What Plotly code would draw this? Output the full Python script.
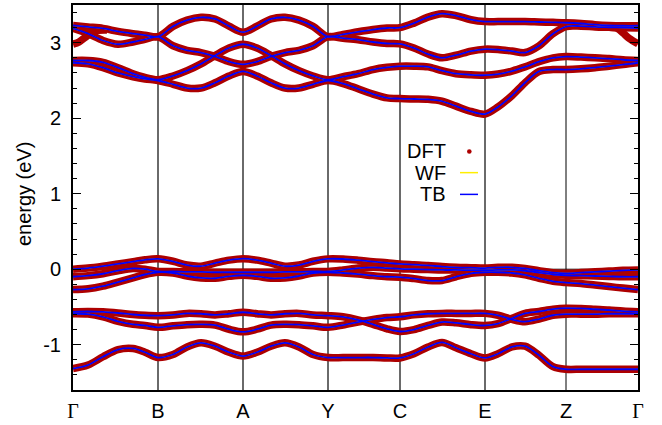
import plotly.graph_objects as go

# k-path sample positions (path distance, arbitrary units)
K = [0, 15, 30, 45, 60, 72, 85,
     100, 114, 128, 142, 156, 170,
     184, 198, 212, 226, 240, 255,
     270, 285, 300, 314, 327,
     341, 355, 369, 383, 398, 412,
     425, 439, 452, 466, 480, 493,
     508, 522, 536, 550, 565]

# high-symmetry points
LABEL_K = [0, 85, 170, 255, 327, 412, 493, 565]
LABELS = ["Γ", "B", "A", "Y", "C", "E", "Z", "Γ"]

# band energies (eV) read along K
U4 = [3.23, 3.21, 3.19, 3.15, 3.12, 3.10, 3.08,
      3.217, 3.30, 3.337, 3.315, 3.22, 3.14,
      3.22, 3.315, 3.337, 3.30, 3.217, 3.08,
      3.11, 3.145, 3.175, 3.195, 3.20,
      3.26, 3.34, 3.385, 3.36, 3.305, 3.28,
      3.28, 3.28, 3.28, 3.275, 3.27, 3.265,
      3.255, 3.24, 3.23, 3.225, 3.225]
U3 = [3.19, 3.12, 3.03, 2.98, 3.01, 3.045, 3.08,
      2.96, 2.90, 2.87, 2.82, 2.75, 2.714,
      2.75, 2.82, 2.87, 2.90, 2.96, 3.08,
      3.06, 3.04, 3.01, 2.99, 2.985,
      2.93, 2.85, 2.80, 2.835, 2.89, 2.915,
      2.91, 2.89, 2.87, 2.96, 3.12, 3.215,
      3.22, 3.21, 3.205, 3.20, 3.195]
U2 = [2.765, 2.765, 2.74, 2.67, 2.59, 2.54, 2.51,
      2.56, 2.63, 2.72, 2.83, 2.93, 2.98,
      2.93, 2.83, 2.72, 2.63, 2.56, 2.51,
      2.55, 2.59, 2.645, 2.675, 2.69,
      2.69, 2.68, 2.63, 2.59, 2.575, 2.57,
      2.585, 2.625, 2.68, 2.75, 2.80, 2.817,
      2.81, 2.80, 2.79, 2.775, 2.765]
U1 = [2.735, 2.72, 2.67, 2.60, 2.55, 2.52, 2.50,
      2.45, 2.40, 2.40, 2.47, 2.56, 2.62,
      2.56, 2.47, 2.40, 2.40, 2.45, 2.50,
      2.46, 2.39, 2.32, 2.27, 2.26,
      2.255, 2.25, 2.225, 2.16, 2.09, 2.055,
      2.15, 2.30, 2.47, 2.62, 2.645, 2.645,
      2.655, 2.67, 2.69, 2.71, 2.735]
V6 = [0.0, 0.015, 0.04, 0.07, 0.10, 0.125, 0.137,
      0.105, 0.055, 0.04, 0.08, 0.12, 0.14,
      0.12, 0.08, 0.04, 0.055, 0.105, 0.137,
      0.135, 0.12, 0.10, 0.085, 0.07,
      0.06, 0.05, 0.035, 0.025, 0.02, 0.015,
      0.025, 0.025, 0.01, -0.02, -0.045, -0.055,
      -0.045, -0.035, -0.025, -0.015, -0.01]
V5 = [-0.10, -0.085, -0.06, -0.02, 0.01, 0.0, -0.03,
      -0.03, -0.035, -0.035, -0.04, -0.04, -0.04,
      -0.04, -0.04, -0.035, -0.035, -0.03, -0.03,
      -0.01, 0.015, 0.025, 0.015, 0.005,
      0.0, -0.005, -0.01, -0.01, -0.012, -0.013,
      -0.01, -0.01, -0.02, -0.045, -0.07, -0.08,
      -0.085, -0.09, -0.095, -0.10, -0.10]
V4 = [-0.27, -0.26, -0.225, -0.17, -0.115, -0.07, -0.04,
      -0.05, -0.09, -0.115, -0.12, -0.095, -0.08,
      -0.095, -0.12, -0.115, -0.09, -0.05, -0.04,
      -0.05, -0.065, -0.085, -0.10, -0.105,
      -0.125, -0.15, -0.15, -0.10, -0.055, -0.04,
      -0.04, -0.05, -0.075, -0.12, -0.16, -0.177,
      -0.19, -0.21, -0.23, -0.25, -0.27]
V3 = [-0.564, -0.56, -0.565, -0.58, -0.60, -0.61, -0.615,
      -0.605, -0.585, -0.59, -0.605, -0.59, -0.57,
      -0.59, -0.605, -0.59, -0.585, -0.605, -0.615,
      -0.63, -0.67, -0.73, -0.79, -0.825,
      -0.80, -0.745, -0.70, -0.71, -0.735, -0.745,
      -0.72, -0.65, -0.585, -0.56, -0.53, -0.516,
      -0.52, -0.53, -0.54, -0.555, -0.564]
V2 = [-0.59, -0.595, -0.63, -0.69, -0.73, -0.745, -0.77,
      -0.75, -0.735, -0.73, -0.74, -0.795, -0.83,
      -0.795, -0.74, -0.73, -0.735, -0.75, -0.77,
      -0.74, -0.70, -0.665, -0.64, -0.63,
      -0.605, -0.59, -0.585, -0.585, -0.585, -0.585,
      -0.61, -0.665, -0.695, -0.66, -0.61, -0.595,
      -0.595, -0.595, -0.59, -0.59, -0.59]
V1 = [-1.316, -1.27, -1.16, -1.065, -1.05, -1.10, -1.17,
      -1.13, -1.03, -0.975, -1.02, -1.10, -1.15,
      -1.10, -1.02, -0.975, -1.03, -1.13, -1.17,
      -1.17, -1.17, -1.17, -1.175, -1.175,
      -1.12, -1.03, -0.97, -1.04, -1.12, -1.175,
      -1.12, -1.03, -1.02, -1.14, -1.29, -1.325,
      -1.325, -1.325, -1.325, -1.325, -1.325]

# DFT-only band pieces near Gamma (outside the Wannier window)
DFT_GL_K = [0, 6, 12, 18, 25, 34]
DFT_GL_E = [2.98, 3.01, 3.07, 3.13, 3.165, 3.17]
DFT_GR_K = [536, 544, 550, 556, 565]
DFT_GR_E = [3.205, 3.19, 3.13, 3.06, 2.985]

BANDS = [V1, V2, V3, V4, V5, V6, U1, U2, U3, U4]

RED = "#ad0000"
FONT = "Liberation Sans, Arial, sans-serif"

fig = go.Figure()

# DFT (thick dark red)
for E in BANDS:
    fig.add_trace(go.Scatter(x=K, y=E, mode="lines", showlegend=False,
                             line=dict(color=RED, width=7.5, shape="spline", smoothing=0.9),
                             hoverinfo="skip"))
for kk, ee in [(DFT_GL_K, DFT_GL_E), (DFT_GR_K, DFT_GR_E)]:
    fig.add_trace(go.Scatter(x=kk, y=ee, mode="lines", showlegend=False,
                             line=dict(color=RED, width=7.5, shape="spline", smoothing=0.9),
                             hoverinfo="skip"))
# WF (yellow)
for E in BANDS:
    fig.add_trace(go.Scatter(x=K, y=E, mode="lines", showlegend=False,
                             line=dict(color="#ffee00", width=1, shape="spline", smoothing=0.9),
                             hoverinfo="skip"))
# TB (blue)
for E in BANDS:
    fig.add_trace(go.Scatter(x=K, y=E, mode="lines", showlegend=False,
                             line=dict(color="#0000ff", width=1.8, shape="spline", smoothing=0.9),
                             hoverinfo="skip"))

shapes = []
for i, kx in enumerate(LABEL_K[1:-1]):
    is_z = LABELS[i + 1] == "Z"
    shapes.append(dict(type="line", xref="x", yref="paper", x0=kx, x1=kx, y0=0, y1=1,
                       line=dict(color="black" if is_z else "#6a6a6a", width=1 if is_z else 2),
                       layer="below"))
# Fermi level
shapes.append(dict(type="line", xref="paper", yref="y", x0=0, x1=1, y0=0, y1=0,
                   line=dict(color="black", width=1), layer="below"))


def px(xp):
    return (xp - 73) / 565.0


def py(yp):
    return (398 - yp) / 395.0


# legend samples (gnuplot style: text then sample)
shapes.append(dict(type="circle", xref="paper", yref="paper",
                   x0=px(467.0), x1=px(471.6), y0=py(155.6), y1=py(151.0),
                   fillcolor=RED, line=dict(color=RED, width=0)))
shapes.append(dict(type="line", xref="paper", yref="paper",
                   x0=px(460), x1=px(478), y0=py(175), y1=py(175),
                   line=dict(color="#ffee00", width=1.5)))
shapes.append(dict(type="line", xref="paper", yref="paper",
                   x0=px(460), x1=px(478), y0=py(197.3), y1=py(197.3),
                   line=dict(color="#0000ff", width=1.5)))

annotations = []
for txt, yy in [("DFT", 153.3), ("WF", 175), ("TB", 197)]:
    annotations.append(dict(text=txt, xref="paper", yref="paper", x=px(447.5), y=py(yy),
                            xanchor="right", yanchor="middle", showarrow=False,
                            font=dict(family=FONT, size=20, color="black")))
annotations.append(dict(text="energy (eV)", xref="paper", yref="paper", x=px(24), y=py(197),
                        xanchor="center", yanchor="middle", textangle=-90, showarrow=False,
                        font=dict(family=FONT, size=20, color="black")))

ticktext = [('<span style="font-family:Liberation Serif, Times New Roman, serif">%s</span>' % t)
            if t == "Γ" else t for t in LABELS]

fig.update_layout(
    width=662, height=425,
    margin=dict(l=73, r=24, t=3, b=27),
    paper_bgcolor="white", plot_bgcolor="white",
    showlegend=False,
    shapes=shapes, annotations=annotations,
    font=dict(family=FONT, size=20, color="black"),
    xaxis=dict(range=[0, 565], tickmode="array", tickvals=LABEL_K, ticktext=ticktext,
               showgrid=False, zeroline=False, showline=True, mirror=True,
               linecolor="black", linewidth=2, ticks="", ticklabelstandoff=2,
               tickfont=dict(family=FONT, size=20, color="black")),
    yaxis=dict(range=[-1.6, 3.5], tickmode="array", tickvals=[-1, 0, 1, 2, 3],
               ticktext=["-1", "0", "1", "2", "3"],
               showgrid=False, zeroline=False, showline=True, mirror="allticks",
               linecolor="black", linewidth=2, ticks="inside", ticklen=8, tickwidth=1,
               tickcolor="black", ticklabelstandoff=6,
               minor=dict(tickmode="linear", tick0=0, dtick=0.2, ticks="inside", ticklen=4,
                          tickwidth=1, tickcolor="black"),
               tickfont=dict(family=FONT, size=20, color="black")),
)

fig.write_html("out.html",
               config={"displayModeBar": False},
               post_script="document.body.style.margin='0';document.body.style.overflow='hidden';")
